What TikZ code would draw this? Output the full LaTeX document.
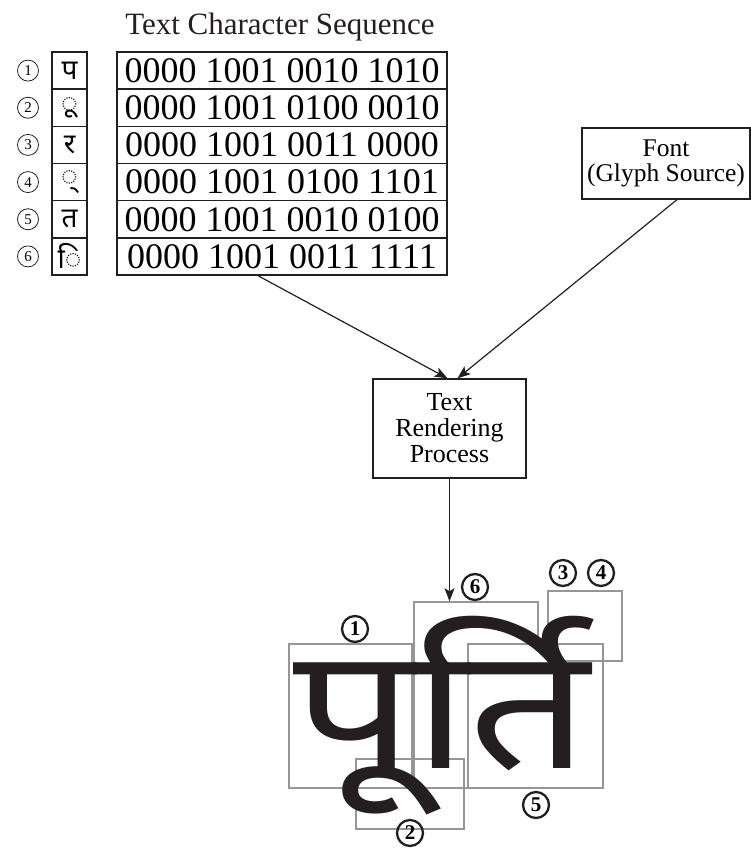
\documentclass[tikz,border=0pt]{standalone}
\usepackage{fontspec}
\setmainfont{Liberation Serif}
\newfontfamily\deva[Script=Devanagari]{Noto Sans}
\usetikzlibrary{arrows.meta}
\definecolor{boxgray}{RGB}{150,150,150}
\definecolor{ink}{RGB}{35,31,32}
\begin{document}
\begin{tikzpicture}[x=1pt,y=-1pt,
  frame/.style={draw=ink, line width=1.3pt, inner sep=0pt},
  binrow/.style={frame, minimum width=330pt, minimum height=37.2pt, font=\fontsize{36}{36}\selectfont},
  glyrow/.style={frame, minimum width=35pt, minimum height=37.2pt, font=\deva\fontsize{28}{28}\selectfont},
  lnum/.style={circle, draw=ink, line width=0.8pt, minimum size=21pt, inner sep=0pt, font=\fontsize{15}{15}\selectfont},
  bnum/.style={circle, draw=ink, line width=2.3pt, minimum size=26pt, inner sep=0pt, font=\fontsize{21}{21}\selectfont\bfseries},
  gbox/.style={draw=boxgray, line width=1.5pt, inner sep=0pt},
  lbox/.style={frame, align=center},
  arr/.style={draw=ink, line width=1.2pt, -{Stealth[length=13pt,width=10pt,inset=3pt]}}]
\useasboundingbox (0,0) rectangle (751,856);

% title
\node[font=\fontsize{31}{31}\selectfont, anchor=base, text=ink] (title) at (280,35) {Text Character Sequence};

% binary rows
\node[binrow] (b1) at (282,70.58) {0000 1001 0010 1010};
\node[binrow] (b2) at (282,107.75) {0000 1001 0100 0010};
\node[binrow] (b3) at (282,144.92) {0000 1001 0011 0000};
\node[binrow] (b4) at (282,182.08) {0000 1001 0100 1101};
\node[binrow] (b5) at (282,219.25) {0000 1001 0010 0100};
\node[binrow] (b6) at (282,256.42) {0000 1001 0011 1111};

% glyph column
\node[glyrow] (g1) at (69.5,70.58) {प};
\node[glyrow] (g2) at (69.5,107.75) {◌ू};
\node[glyrow] (g3) at (69.5,144.92) {र};
\node[glyrow] (g4) at (69.5,182.08) {◌्};
\node[glyrow] (g5) at (69.5,219.25) {त};
\node[glyrow] (g6) at (69.5,256.42) {◌ि};

% circled numbers
\node[lnum] (n1) at (28,70.58) {1};
\node[lnum] (n2) at (28,107.75) {2};
\node[lnum] (n3) at (28,144.92) {3};
\node[lnum] (n4) at (28,182.08) {4};
\node[lnum] (n5) at (28,219.25) {5};
\node[lnum] (n6) at (28,256.42) {6};

% boxes
\node[lbox, minimum width=168pt, minimum height=71pt, font=\fontsize{25.5}{25}\selectfont] (font) at (666,163.5) {Font\\(Glyph Source)};
\node[lbox, minimum width=153pt, minimum height=99pt, font=\fontsize{26}{26}\selectfont] (trp) at (449.5,428.5) {Text\\Rendering\\Process};

% gray glyph boxes
\node[gbox, minimum width=124pt, minimum height=186pt] (box6) at (476,695) {};
\node[gbox, fill=white, minimum width=135pt, minimum height=144pt] (box5) at (535.5,716) {};
\node[gbox, minimum width=123pt, minimum height=144pt] (box1) at (350.5,716) {};
\node[gbox, minimum width=108pt, minimum height=70pt] (box2) at (410,794) {};
\node[gbox, minimum width=74pt, minimum height=70pt] (box34) at (585,626) {};

% rendered word
\node[anchor=base west, inner sep=0pt, text=ink] (word) at (293,768)
  {\scalebox{1.25}[1]{\deva\fontsize{170}{170}\selectfont पूर्ति}};

% bold circled labels
\node[bnum] (c1) at (355,629) {1};
\node[bnum] (c2) at (410,833) {2};
\node[bnum] (c3) at (563,573) {3};
\node[bnum] (c4) at (601,573) {4};
\node[bnum] (c5) at (536,805) {5};
\node[bnum] (c6) at (475,587) {6};

% arrows
\draw[arr] ([xshift=-24pt]b6.south) -- ([xshift=-2pt]trp.north);
\draw[arr] ([xshift=11pt]font.south) -- ([xshift=8pt]trp.north);
\draw[arr] (trp.south) -- (trp.south |- box6.north);
\end{tikzpicture}
\end{document}
